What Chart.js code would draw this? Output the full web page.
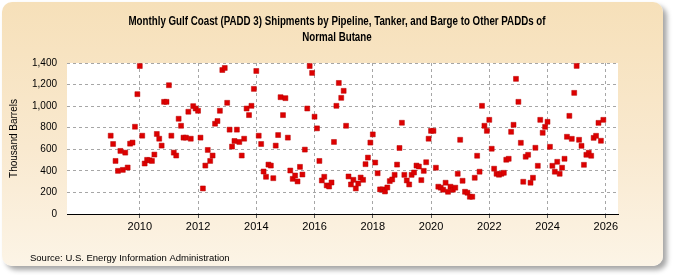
<!DOCTYPE html>
<html>
<head>
<meta charset="utf-8">
<title>Gulf Coast Normal Butane Shipments</title>
<script src="https://cdn.jsdelivr.net/npm/chart.js@4.4.1/dist/chart.umd.min.js"></script>
<style>
  html, body { margin: 0; padding: 0; background: #ffffff; }
  .frame { position: relative; width: 675px; height: 275px; overflow: hidden; }
  .panel {
    position: absolute; left: 2px; top: 2px; width: 661px; height: 264px;
    border-radius: 10px;
    background: linear-gradient(to bottom, #f6e0b9 0%, #f9e9cf 55%, #fcf4e6 100%);
    box-shadow: 4px 4px 5px rgba(0, 0, 0, 0.35);
  }
  .chart-box { position: absolute; left: 0; top: 0; width: 675px; height: 275px; }
</style>
</head>
<body>
<div class="frame">
  <div class="panel"></div>
  <div class="chart-box"><canvas id="butaneChart"></canvas></div>
</div>

<script>
// === DATOS: envios mensuales (miles de barriles), enero 2009 en adelante ===
const firstYear = 2009;
const shipments = [
  726, 649, 492, 400, 585, 409, 569, 431, 652, 662, 809, 1111,     // 2009
  1372, 726, 468, 502, 498, 492, 551, 742, 698, 634, 1040, 1040,   // 2010
  1194, 726, 569, 542, 883, 818, 708, 708, 948, 698, 1000, 978,    // 2011
  957, 708, 237, 449, 594, 492, 542, 837, 862, 957, 1335, 1354,    // 2012
  1031, 782, 625, 677, 782, 668, 542, 698, 978, 917, 1003, 1160,   // 2013
  1326, 726, 649, 394, 345, 458, 449, 332, 634, 732, 1083, 917,    // 2014
  1074, 708, 403, 326, 357, 302, 437, 366, 597, 978, 1372, 1308,   // 2015
  902, 794, 492, 311, 345, 265, 255, 292, 668, 1003, 1215, 1077,   // 2016
  1142, 818, 348, 274, 317, 237, 283, 338, 317, 462, 523, 662,     // 2017
  738, 477, 378, 228, 228, 209, 246, 305, 320, 363, 458, 612,      // 2018
  846, 363, 311, 274, 363, 385, 449, 440, 314, 400, 480, 698,      // 2019
  771, 771, 429, 253, 244, 225, 290, 206, 253, 225, 244, 373,      // 2020
  688, 308, 206, 197, 160, 160, 336, 540, 392, 1003, 818, 771,     // 2021
  873, 605, 420, 373, 364, 373, 382, 503, 512, 762, 827, 1253,     // 2022
  1040, 660, 299, 531, 549, 290, 336, 614, 447, 873, 753, 808,     // 2023
  855, 623, 447, 392, 484, 373, 429, 512, 716, 910, 697, 1123,     // 2024
  1373, 688, 632, 456, 549, 568, 540, 706, 725, 845, 679, 873      // 2025
];

const xTicks = [2010, 2012, 2014, 2016, 2018, 2020, 2022, 2024, 2026];
const yTicks = [0, 200, 400, 600, 800, 1000, 1200, 1400];

const titleLines = [
  "Monthly Gulf Coast (PADD 3) Shipments by Pipeline, Tanker, and Barge to Other PADDs of",
  "Normal Butane"
];
const sourceText = "Source: U.S. Energy Information Administration";

// puntos {x: año decimal, y: valor}
const points = shipments.map((v, i) => ({ x: firstYear + i / 12, y: v }));

// === PLUGIN: fondo blanco, titulo condensado y texto de fuente ===
const chartDecor = {
  id: "chartDecor",
  beforeDraw(chart) {
    const { ctx, chartArea: a } = chart;
    ctx.save();
    ctx.fillStyle = "#ffffff";
    ctx.fillRect(a.left, a.top, a.right - a.left, a.bottom - a.top);
    ctx.restore();
  },
  afterDraw(chart) {
    const ctx = chart.ctx;
    ctx.save();
    ctx.fillStyle = "#000000";
    ctx.textBaseline = "middle";

    // titulo: fuente estrecha simulada con escala horizontal
    ctx.font = "bold 12.5px 'Liberation Sans', Arial, sans-serif";
    ctx.textAlign = "center";
    titleLines.forEach((line, i) => {
      ctx.save();
      ctx.translate(337, 22 + i * 16);
      ctx.scale(0.78, 1);
      ctx.fillText(line, 0, 0);
      ctx.restore();
    });

    ctx.textAlign = "left";
    ctx.font = "9.5px 'Liberation Sans', Arial, sans-serif";
    ctx.fillText(sourceText, 30, 258);
    ctx.restore();
  }
};

const ctx = document.getElementById("butaneChart").getContext("2d");

new Chart(ctx, {
  type: "scatter",
  data: {
    datasets: [{
      label: "Normal Butane",
      data: points,
      pointStyle: "rect",
      pointRadius: 3.5,
      pointBackgroundColor: "#dd0000",
      pointBorderColor: "#b80000",
      pointBorderWidth: 0.5
    }]
  },
  options: {
    responsive: true,
    maintainAspectRatio: false,
    animation: false,
    layout: { padding: { left: 0, right: 57, top: 63, bottom: 37 } },
    plugins: {
      legend: { display: false },
      tooltip: { enabled: false },
      title: { display: false }
    },
    scales: {
      x: {
        type: "linear",
        min: 2007.5,
        max: 2026.42,
        afterBuildTicks: (scale) => { scale.ticks = xTicks.map(v => ({ value: v })); },
        afterFit: (scale) => { scale.height = 24; },
        ticks: {
          color: "#000000",
          padding: 2,
          font: { family: "'Liberation Sans', Arial, sans-serif", size: 11 },
          callback: (value) => String(value)
        },
        grid: { color: "#a6a6a6", tickColor: "#555555", tickLength: 4, drawTicks: true },
        border: { display: true, color: "#000000", width: 1, dash: [3, 3] }
      },
      y: {
        min: 0,
        max: 1400,
        afterBuildTicks: (scale) => { scale.ticks = yTicks.map(v => ({ value: v })); },
        afterFit: (scale) => { scale.width = 67; },
        ticks: {
          color: "#000000",
          padding: 10,
          font: { family: "'Liberation Sans', Arial, sans-serif", size: 10 },
          callback: (value) => value.toLocaleString("en-US")
        },
        grid: { color: "#a6a6a6", drawTicks: false },
        border: { display: false, dash: [3, 3] },
        title: {
          display: true,
          text: "Thousand Barrels",
          color: "#000000",
          font: { family: "'Liberation Sans', Arial, sans-serif", size: 10 },
          padding: { top: 8, bottom: 0 }
        }
      }
    }
  },
  plugins: [chartDecor]
});
</script>
</body>
</html>
